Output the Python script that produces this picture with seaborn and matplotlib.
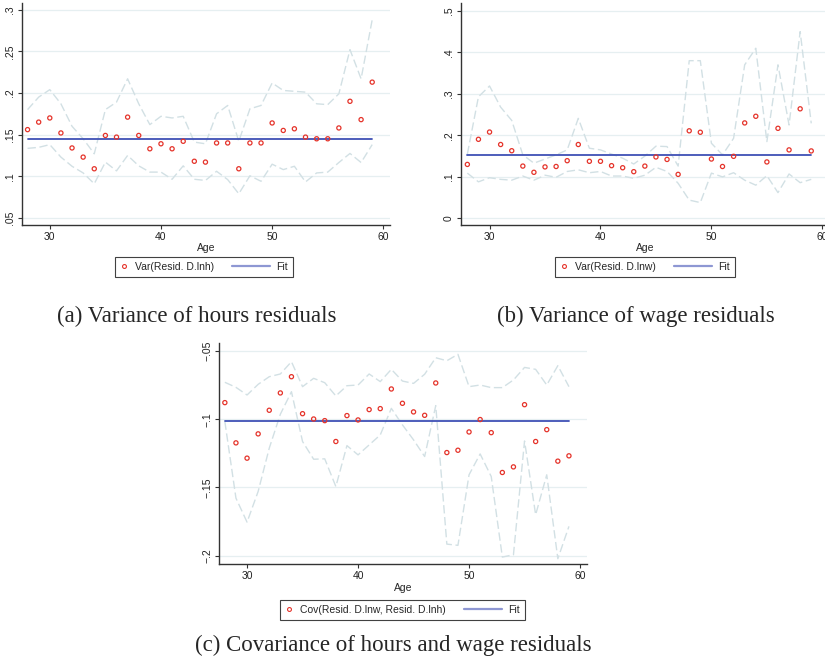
import matplotlib
matplotlib.use("Agg")
import matplotlib.pyplot as plt
from matplotlib.lines import Line2D
from matplotlib.legend_handler import HandlerBase
import pandas as pd
import seaborn as sns

# ---------------- data ----------------
ages = list(range(28, 60))

var_h = [0.156, 0.165, 0.170, 0.152, 0.134, 0.123, 0.109, 0.149, 0.147, 0.171, 0.149, 0.133,
         0.139, 0.133, 0.142, 0.118, 0.117, 0.140, 0.140, 0.109, 0.140, 0.140, 0.164, 0.155,
         0.157, 0.147, 0.145, 0.145, 0.158, 0.190, 0.168, 0.213]
var_h_hi = [0.180, 0.195, 0.204, 0.187, 0.160, 0.145, 0.127, 0.180, 0.189, 0.217, 0.187, 0.162,
            0.172, 0.170, 0.172, 0.141, 0.139, 0.175, 0.185, 0.142, 0.181, 0.185, 0.212, 0.203,
            0.202, 0.201, 0.187, 0.186, 0.199, 0.252, 0.217, 0.288]
var_h_lo = [0.1335, 0.1347, 0.138, 0.123, 0.112, 0.104, 0.091, 0.117, 0.1065, 0.125, 0.1125, 0.105,
            0.105, 0.0964, 0.1125, 0.0964, 0.095, 0.106, 0.096, 0.079, 0.1006, 0.094, 0.1145, 0.108,
            0.112, 0.0932, 0.104, 0.105, 0.1165, 0.1274, 0.1165, 0.138]
fit_h = 0.1452

var_w = [0.130, 0.1905, 0.208, 0.178, 0.163, 0.126, 0.111, 0.124, 0.125, 0.139, 0.178, 0.1375,
         0.1375, 0.127, 0.122, 0.1125, 0.126, 0.148, 0.142, 0.106, 0.211, 0.2075, 0.143, 0.125,
         0.1495, 0.230, 0.246, 0.136, 0.217, 0.165, 0.264, 0.1625]
var_w_hi = [0.155, 0.293, 0.319, 0.268, 0.236, 0.153, 0.133, 0.143, 0.153, 0.165, 0.241, 0.169,
            0.165, 0.155, 0.145, 0.131, 0.150, 0.174, 0.173, 0.126, 0.380, 0.380, 0.181, 0.153,
            0.193, 0.370, 0.410, 0.185, 0.370, 0.225, 0.450, 0.229]
var_w_lo = [0.109, 0.088, 0.098, 0.094, 0.092, 0.102, 0.092, 0.104, 0.099, 0.113, 0.117, 0.110,
            0.113, 0.102, 0.102, 0.0965, 0.104, 0.123, 0.113, 0.0845, 0.044, 0.038, 0.109, 0.100,
            0.110, 0.092, 0.080, 0.103, 0.062, 0.107, 0.086, 0.094]
fit_w = 0.1535

cov_hw = [-0.0878, -0.1173, -0.1285, -0.1107, -0.0934, -0.0807, -0.0688, -0.0959, -0.0998, -0.101,
          -0.1163, -0.0973, -0.1005, -0.0929, -0.0922, -0.0778, -0.0883, -0.0946, -0.0971, -0.0734,
          -0.1244, -0.1227, -0.1093, -0.1002, -0.1098, -0.139, -0.1349, -0.0893, -0.1163, -0.1076,
          -0.1307, -0.1268]
cov_hw_hi = [-0.0729, -0.0766, -0.0822, -0.0744, -0.0688, -0.0668, -0.0578, -0.0761, -0.070, -0.0732,
             -0.0829, -0.0754, -0.0749, -0.0668, -0.0724, -0.0634, -0.072, -0.0737, -0.067, -0.0549,
             -0.0571, -0.0524, -0.0761, -0.0749, -0.0768, -0.0768, -0.0712, -0.062, -0.0634, -0.0749,
             -0.0607, -0.0761]
cov_hw_lo = [-0.1017, -0.1578, -0.1754, -0.1529, -0.1212, -0.0963, -0.0798, -0.1163, -0.1293, -0.129,
             -0.1493, -0.1193, -0.1261, -0.1188, -0.1115, -0.092, -0.1041, -0.1151, -0.1273, -0.090,
             -0.1915, -0.1924, -0.1407, -0.1254, -0.142, -0.201, -0.1993, -0.1159, -0.170, -0.1407,
             -0.2022, -0.1785]
fit_c = -0.1015

x_ticks = [30, 40, 50, 60]
x_tick_labels = ["30", "40", "50", "60"]
yt_a = [0.05, 0.10, 0.15, 0.20, 0.25, 0.30]
yl_a = [".05", ".1", ".15", ".2", ".25", ".3"]
yt_b = [0.0, 0.1, 0.2, 0.3, 0.4, 0.5]
yl_b = ["0", ".1", ".2", ".3", ".4", ".5"]
yt_c = [-0.20, -0.15, -0.10, -0.05]
yl_c = ["\u2212.2", "\u2212.15", "\u2212.1", "\u2212.05"]

leg_a = "Var(Resid. D.lnh)"
leg_b = "Var(Resid. D.lnw)"
leg_c = "Cov(Resid. D.lnw, Resid. D.lnh)"
title_a = "(a) Variance of hours residuals"
title_b = "(b) Variance of wage residuals"
title_c = "(c) Covariance of hours and wage residuals"

# ---------------- style ----------------
sns.set_style("white")
plt.rcParams["font.family"] = ["Liberation Sans", "DejaVu Sans"]

RED = "#e5332a"
FIT = "#3f51b5"
FIT_LEG = "#8e97d3"
CI = "#d2e0e4"
GRID = "#e6eff1"
SPINE = "#333333"

W, H = 825, 669
fig = plt.figure(figsize=(W / 100, H / 100), dpi=100)


class LongLineHandler(HandlerBase):
    """Legend line that extends leftwards into the column gap (Stata-style key)."""
    def __init__(self, length_pt, **kw):
        super().__init__(**kw)
        self.length_pt = length_pt

    def create_artists(self, legend, orig_handle, xdescent, ydescent, width, height,
                       fontsize, trans):
        y = height / 2 - ydescent
        x1 = width - xdescent
        ln = Line2D([x1 - self.length_pt, x1], [y, y], color=orig_handle.get_color(),
                    lw=orig_handle.get_linewidth())
        ln.set_transform(trans)
        return [ln]


def px_axes(left, top, right, bottom):
    return fig.add_axes([left / W, 1 - bottom / H, (right - left) / W, (bottom - top) / H])


def panel(ax, y, hi, lo, fit, xlim, ylim, yticks, ylabels, leg_label, leg_center):
    df = pd.DataFrame({"age": ages, "y": y, "hi": hi, "lo": lo, "fit": [fit] * len(ages)})
    for yt in yticks:
        ax.axhline(yt, color=GRID, lw=0.9, zorder=0)
    sns.lineplot(data=df, x="age", y="hi", ax=ax, color=CI, lw=1.0, linestyle=(0, (6, 2.6)),
                 estimator=None, sort=False, zorder=1)
    sns.lineplot(data=df, x="age", y="lo", ax=ax, color=CI, lw=1.0, linestyle=(0, (6, 2.6)),
                 estimator=None, sort=False, zorder=1)
    sns.lineplot(data=df, x="age", y="fit", ax=ax, color=FIT, lw=1.3,
                 estimator=None, sort=False, zorder=2)
    sns.scatterplot(data=df, x="age", y="y", ax=ax, marker="o", s=9, facecolor="none",
                    edgecolor=RED, linewidth=0.9, zorder=3)
    ax.set_xlim(*xlim)
    ax.set_ylim(*ylim)
    ax.set_xticks(x_ticks)
    ax.set_xticklabels(x_tick_labels, fontsize=7.5)
    ax.set_yticks(yticks)
    ax.set_yticklabels(ylabels, fontsize=7.5, rotation=90, va="center")
    ax.set_xlabel("Age", fontsize=7.5, labelpad=1)
    ax.set_ylabel("")
    for s in ["top", "right"]:
        ax.spines[s].set_visible(False)
    for s in ["left", "bottom"]:
        ax.spines[s].set_color(SPINE)
        ax.spines[s].set_linewidth(1.0)
    ax.tick_params(axis="both", direction="out", length=3, width=0.8, color=SPINE,
                   labelcolor="#222222", pad=2, left=True, bottom=True)
    mk = Line2D([], [], marker="o", ls="none", markerfacecolor="none", markeredgecolor=RED,
                markersize=2.8, markeredgewidth=0.8)
    fl = Line2D([], [], color=FIT_LEG, lw=1.6)
    leg = ax.legend([mk, fl], [leg_label, "Fit"], ncol=2, loc="center",
                    bbox_to_anchor=(leg_center[0] / W, 1 - leg_center[1] / H),
                    bbox_transform=fig.transFigure, fontsize=7.5, frameon=True,
                    fancybox=False, edgecolor="#111111", handlelength=0.8,
                    columnspacing=4.6, handletextpad=0.62, borderpad=0.5, borderaxespad=0,
                    handler_map={fl: LongLineHandler(27.4)})
    leg.get_frame().set_linewidth(0.8)


ax_a = px_axes(22, 3, 390, 225)
panel(ax_a, var_h, var_h_hi, var_h_lo, fit_h, (27.5, 60.6), (0.0415, 0.308),
      yt_a, yl_a, leg_a, (204, 267))

ax_b = px_axes(460.7, 3, 829, 225)
panel(ax_b, var_w, var_w_hi, var_w_lo, fit_w, (27.4, 60.6), (-0.016, 0.519),
      yt_b, yl_b, leg_b, (645, 267))

ax_c = px_axes(219.3, 343, 586.7, 564.3)
panel(ax_c, cov_hw, cov_hw_hi, cov_hw_lo, fit_c, (27.5, 60.6), (-0.2063, -0.0441),
      yt_c, yl_c, leg_c, (402.5, 610))

serif = ["Liberation Serif", "DejaVu Serif"]
fig.text(196.5 / W, 1 - 316 / H, title_a, ha="center", va="center", fontsize=16.5, family=serif)
fig.text(636 / W, 1 - 316 / H, title_b, ha="center", va="center", fontsize=16.5, family=serif)
fig.text(393 / W, 1 - 645 / H, title_c, ha="center", va="center", fontsize=16.5, family=serif)

fig.savefig("out.png", dpi=100, facecolor="white")
